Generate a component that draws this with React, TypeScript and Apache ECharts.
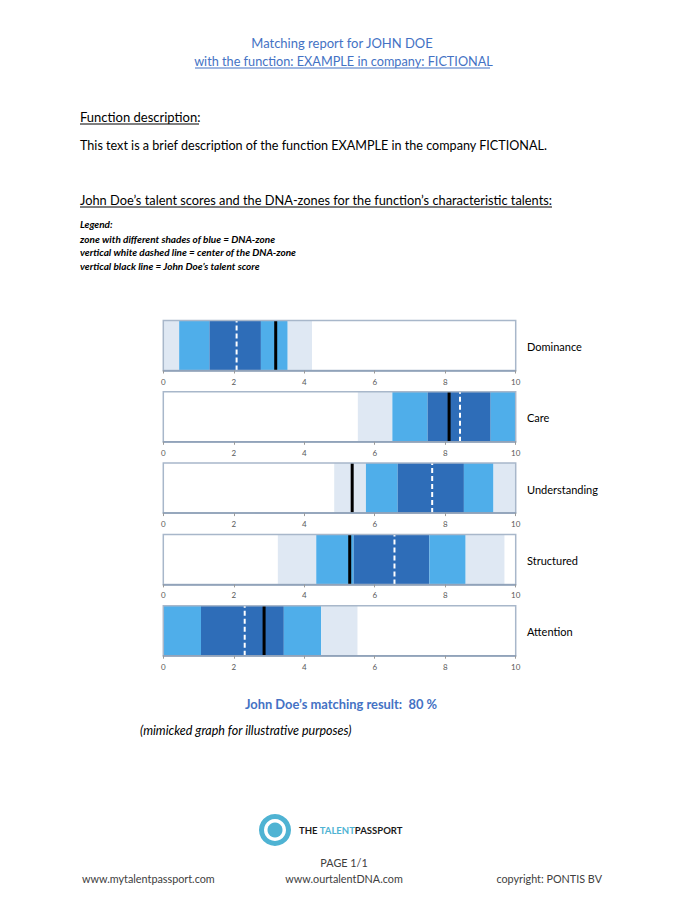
import React, { useEffect, useRef } from "react";
import * as echarts from "echarts";

const talents = ["Dominance", "Care", "Understanding", "Structured", "Attention"];
// zones: [start, end, shade]  shade 0 = light, 1 = medium, 2 = dark
const dominanceZones = [[0, 0.45, 0], [0.45, 1.31, 1], [1.31, 2.77, 2], [2.77, 3.53, 1], [3.53, 4.22, 0]];
const careZones = [[5.52, 6.5, 0], [6.5, 7.5, 1], [7.5, 9.29, 2], [9.29, 10, 1]];
const understandingZones = [[4.85, 5.75, 0], [5.75, 6.65, 1], [6.65, 8.53, 2], [8.53, 9.37, 1], [9.37, 10, 0]];
const structuredZones = [[3.25, 4.34, 0], [4.34, 5.4, 1], [5.4, 7.55, 2], [7.55, 8.58, 1], [8.58, 9.68, 0]];
const attentionZones = [[0, 1.07, 1], [1.07, 3.42, 2], [3.42, 4.48, 1], [4.48, 5.51, 0]];
const allZones = [dominanceZones, careZones, understandingZones, structuredZones, attentionZones];
const zoneCenters = [2.08, 8.42, 7.63, 6.56, 2.31];
const talentScores = [3.19, 8.11, 5.36, 5.29, 2.86];
const axisMin = 0;
const axisMax = 10;
const axisInterval = 2;
const matchingResult = 80;

const SHADES = ["#dfe8f3", "#4faeea", "#2e6db8"];
const BLUE = "#4472c4";
const FONT = "Lato, 'Open Sans', sans-serif";

export default function App() {
  const ref = useRef<HTMLDivElement>(null);
  useEffect(() => {
    document.body.style.margin = "0";
    const chart = echarts.init(ref.current!, null, { renderer: "svg" });
    const gridTop0 = 320.5;
    const rowStep = 71.3;
    const gridH = 50;
    const grids: any[] = [];
    const xAxes: any[] = [];
    const yAxes: any[] = [];
    const series: any[] = [];
    const graphics: any[] = [];
    talents.forEach((name, i) => {
      const top = gridTop0 + i * rowStep;
      grids.push({
        left: 163.3, width: 352.4, top, height: gridH, show: true,
        borderColor: "#a8b7ca", borderWidth: 1.5, backgroundColor: "transparent", z: 3,
      });
      xAxes.push({
        type: "value", gridIndex: i, min: axisMin, max: axisMax, interval: axisInterval,
        axisLine: { show: true, onZero: false, lineStyle: { color: "#8a9db5", width: 1.5 } },
        axisTick: { show: true, length: 3, lineStyle: { color: "#9a9a9a" } },
        axisLabel: { fontSize: 8, color: "#595959", fontFamily: FONT, margin: 7 },
        splitLine: { show: false },
        z: 4,
      });
      yAxes.push({ type: "value", gridIndex: i, min: 0, max: 1, show: false, splitLine: { show: false } });
      series.push({
        type: "custom", xAxisIndex: i, yAxisIndex: i,
        data: allZones[i],
        encode: { x: [0, 1] },
        renderItem: (params: any, api: any) => {
          const s = api.coord([api.value(0), 1]);
          const e = api.coord([api.value(1), 0]);
          return {
            type: "rect",
            shape: { x: s[0], y: s[1], width: e[0] - s[0], height: e[1] - s[1] },
            style: { fill: SHADES[api.value(2)] },
          };
        },
        z: 1,
      });
      series.push({
        type: "line", xAxisIndex: i, yAxisIndex: i, symbol: "none",
        data: [[zoneCenters[i], 0], [zoneCenters[i], 1]],
        lineStyle: { color: "#ffffff", width: 2, type: [5, 3] }, z: 2,
      });
      series.push({
        type: "line", xAxisIndex: i, yAxisIndex: i, symbol: "none",
        data: [[talentScores[i], 0], [talentScores[i], 1]],
        lineStyle: { color: "#000000", width: 3 }, z: 2,
      });
      graphics.push({
        type: "text", x: 527, y: top + gridH / 2 + 1,
        style: { text: name, font: `11px ${FONT}`, fill: "#000", textAlign: "left", textVerticalAlign: "middle", verticalAlign: "middle" },
      });
    });

    const txt = (text: string, x: number, y: number, font: string, fill = "#000", align = "left") => ({
      type: "text", x, y,
      style: { text, font, fill, textAlign: align, align, textVerticalAlign: "middle", verticalAlign: "middle" },
    });
    const uline = (x1: number, x2: number, y: number, color = "#000", w = 1) => ({
      type: "line", shape: { x1, y1: y, x2, y2: y }, style: { stroke: color, lineWidth: w },
    });

    graphics.push(
      txt("Matching report for JOHN DOE", 342, 43, `13px ${FONT}`, BLUE, "center"),
      txt(" with the function: EXAMPLE in company: FICTIONAL", 342, 61, `12.7px ${FONT}`, BLUE, "center"),
      uline(195, 490, 68, BLUE, 1.2),
      txt("Function description:", 80, 117, `13px ${FONT}`),
      uline(80, 199, 124),
      txt("This text is a brief description of the function EXAMPLE in the company FICTIONAL.", 80, 145, `12.6px ${FONT}`),
      txt("John Doe\u2019s talent scores and the DNA-zones for the function\u2019s characteristic talents:", 80, 200, `12.8px ${FONT}`),
      uline(80, 552, 207),
      txt("Legend:", 80, 224, `italic bold 10px ${FONT}`),
      txt("zone with different shades of blue = DNA-zone", 80, 239, `italic bold 10px ${FONT}`),
      txt("vertical white dashed line = center of the DNA-zone", 80, 252, `italic bold 10px ${FONT}`),
      txt("vertical black line = John Doe\u2019s talent score", 80, 266, `italic bold 10px ${FONT}`),
      txt(`John Doe\u2019s matching result:  ${matchingResult} %`, 341, 704, `bold 12.9px ${FONT}`, BLUE, "center"),
      txt("(mimicked graph for illustrative purposes)", 140, 730, `italic 12.5px ${FONT}`),
      { type: "circle", shape: { cx: 275, cy: 830, r: 16 }, style: { fill: "#4fb3d3" } },
      { type: "circle", shape: { cx: 275, cy: 830, r: 11 }, style: { fill: "#ffffff" } },
      { type: "circle", shape: { cx: 275, cy: 830, r: 7.5 }, style: { fill: "#4fb3d3" } },
      {
        type: "text", x: 299, y: 830,
        style: {
          text: "{a|THE }{b|TALENT}{a|PASSPORT}", textVerticalAlign: "middle", verticalAlign: "middle",
          rich: {
            a: { font: `bold 9.5px ${FONT}`, fill: "#1a1a1a", color: "#1a1a1a" },
            b: { font: `bold 9.5px ${FONT}`, fill: "#4fb3d3", color: "#4fb3d3" },
          },
        },
      },
      txt("PAGE 1/1", 344, 862, `10.8px ${FONT}`, "#404040", "center"),
      txt("www.mytalentpassport.com", 82, 878, `10.8px ${FONT}`, "#404040"),
      txt("www.ourtalentDNA.com", 344, 878, `10.8px ${FONT}`, "#404040", "center"),
      txt("copyright: PONTIS BV", 602, 878, `10.8px ${FONT}`, "#404040", "right"),
    );

    chart.setOption({
      animation: false,
      backgroundColor: "#ffffff",
      grid: grids,
      xAxis: xAxes,
      yAxis: yAxes,
      series,
      graphic: { elements: graphics },
    });
    return () => chart.dispose();
  }, []);
  return <div ref={ref} style={{ position: "fixed", left: 0, top: 0, width: 682, height: 917 }} />;
}
